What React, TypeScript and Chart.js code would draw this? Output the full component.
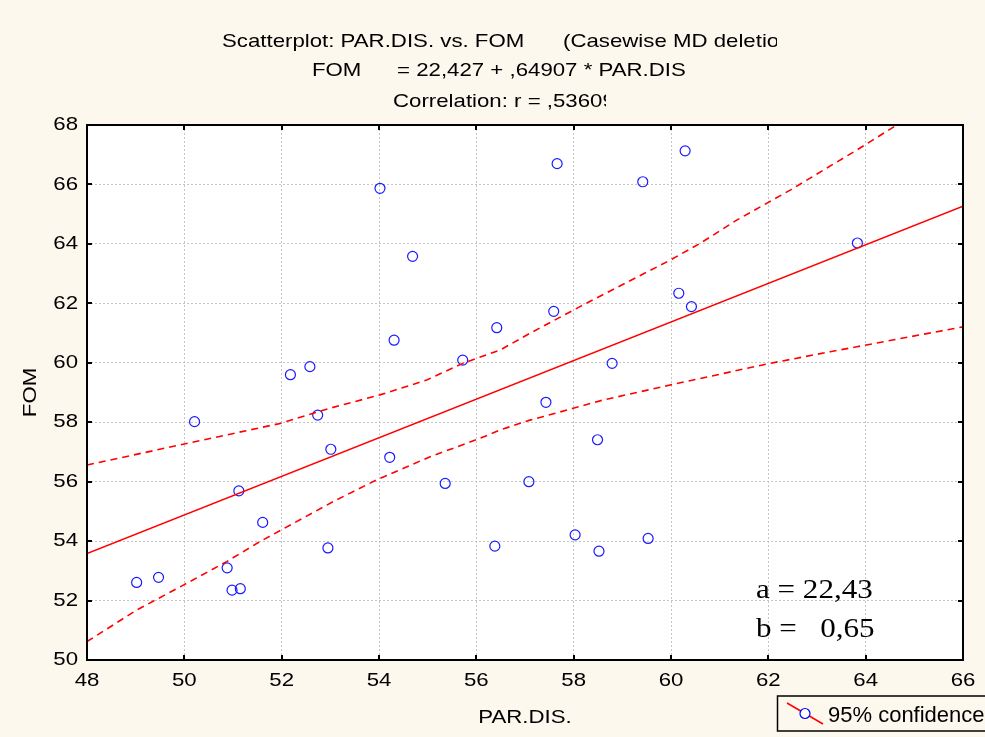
import React, { useEffect, useRef } from "react";
import { Chart, registerables } from "chart.js";

Chart.register(...registerables);

// Observed cases (PAR.DIS., FOM)
const parDis = [
  49.02, 49.47, 50.21, 50.88, 50.98, 51.15, 51.12, 51.61, 52.74, 53.01,
  52.95, 54.22, 55.36, 56.38, 57.08, 57.43, 58.49, 58.03, 58.52, 59.53,
  52.18, 52.58, 54.02, 54.69, 54.31, 55.72, 56.42, 57.66, 59.42, 60.29,
  63.83, 57.59, 60.16, 60.42, 58.79,
];
const fom = [
  52.61, 52.78, 58.02, 53.10, 52.35, 52.40, 55.69, 54.63, 58.24, 57.09,
  53.77, 56.82, 55.94, 53.83, 56.00, 58.67, 57.41, 54.21, 53.66, 54.09,
  59.60, 59.87, 65.87, 63.58, 60.76, 60.09, 61.18, 66.70, 66.09, 67.13,
  64.03, 61.73, 62.34, 61.89, 59.98,
];

// Regression line FOM = 22,427 + ,64907 * PAR.DIS
const fitX = [48, 66];
const fitY = [53.58, 65.27];

// 95% confidence bands
const upperX = [48, 50.12, 51.97, 52.99, 54.02, 54.98, 55.72, 56.49, 57.1, 58.13, 59.99, 60.6, 61.35, 62.45, 63.82, 64.64, 66];
const upperY = [56.56, 57.31, 57.96, 58.47, 58.92, 59.42, 59.98, 60.43, 60.99, 61.89, 63.46, 64.02, 64.8, 65.81, 67.16, 68.0, 69.33];
const lowerX = [48, 49.02, 49.98, 50.87, 51.55, 53.06, 53.95, 55.05, 56.08, 56.49, 57.1, 57.38, 57.99, 58.61, 59.98, 62.03, 63.27, 63.82, 66];
const lowerY = [50.62, 51.68, 52.52, 53.31, 53.98, 55.33, 56.06, 56.84, 57.46, 57.74, 58.07, 58.19, 58.47, 58.75, 59.25, 59.98, 60.37, 60.54, 61.21];

const xTicks = [48, 50, 52, 54, 56, 58, 60, 62, 64, 66];
const yTicks = [50, 52, 54, 56, 58, 60, 62, 64, 66, 68];

const titleLine1a = "Scatterplot: PAR.DIS. vs. FOM";
const titleLine1b = "(Casewise MD deletion)";
const titleLine2a = "FOM";
const titleLine2b = "= 22,427 + ,64907 * PAR.DIS.";
const titleLine3 = "Correlation: r = ,53609";
const xTitle = "PAR.DIS.";
const yTitle = "FOM";
const annA = "a = 22,43";
const annB = "b =   0,65";
const legendLabel = "95% confidence";

const pts = (xs: number[], ys: number[]) => xs.map((x, i) => ({ x, y: ys[i] }));

const SANS = "'Liberation Sans', Arial, sans-serif";
const SERIF = "'Liberation Serif', 'Times New Roman', serif";
const STRETCH = 1.17;

function drawText(
  ctx: CanvasRenderingContext2D,
  text: string,
  x: number,
  y: number,
  opts: { size: number; family?: string; stretch?: number; align?: CanvasTextAlign; baseline?: CanvasTextBaseline; clipRight?: number; rotate?: number }
) {
  ctx.save();
  if (opts.clipRight !== undefined) {
    ctx.beginPath();
    ctx.rect(0, y - 40, opts.clipRight, 60);
    ctx.clip();
  }
  ctx.translate(x, y);
  if (opts.rotate) ctx.rotate(opts.rotate);
  ctx.scale(opts.stretch ?? STRETCH, 1);
  ctx.font = `${opts.size}px ${opts.family ?? SANS}`;
  ctx.textAlign = opts.align ?? "left";
  ctx.textBaseline = opts.baseline ?? "alphabetic";
  ctx.fillStyle = "#000";
  ctx.fillText(text, 0, 0);
  ctx.restore();
}

const decorPlugin = {
  id: "decor",
  beforeDraw(chart: any) {
    const { ctx, chartArea: a, width, height } = chart;
    ctx.save();
    ctx.fillStyle = "#fdf8ed";
    ctx.fillRect(0, 0, width, height);
    ctx.fillStyle = "#ffffff";
    ctx.fillRect(a.left, a.top, a.right - a.left, a.bottom - a.top);
    ctx.restore();
  },
  afterDraw(chart: any) {
    const { ctx, chartArea: a } = chart;
    const xs = chart.scales.x;
    const ys = chart.scales.y;
    ctx.save();
    // box
    ctx.strokeStyle = "#000";
    ctx.lineWidth = 2;
    ctx.strokeRect(a.left, a.top, a.right - a.left, a.bottom - a.top);
    // inward ticks
    const tl = 5;
    ctx.beginPath();
    xTicks.forEach((v) => {
      const px = Math.round(xs.getPixelForValue(v));
      ctx.moveTo(px, a.bottom);
      ctx.lineTo(px, a.bottom - tl);
      ctx.moveTo(px, a.top);
      ctx.lineTo(px, a.top + tl);
    });
    yTicks.forEach((v) => {
      const py = Math.round(ys.getPixelForValue(v));
      ctx.moveTo(a.left, py);
      ctx.lineTo(a.left + tl, py);
      ctx.moveTo(a.right, py);
      ctx.lineTo(a.right - tl, py);
    });
    ctx.stroke();
    ctx.restore();

    // tick labels
    xTicks.forEach((v) => {
      drawText(ctx, String(v), xs.getPixelForValue(v), a.bottom + 21, { size: 19, align: "center", baseline: "middle" });
    });
    yTicks.forEach((v) => {
      drawText(ctx, String(v), a.left - 9, ys.getPixelForValue(v), { size: 19, align: "right", baseline: "middle" });
    });

    // titles
    drawText(ctx, titleLine1a, 222, 47, { size: 19 });
    drawText(ctx, titleLine1b, 563, 47, { size: 19, clipRight: 777 });
    drawText(ctx, titleLine2a, 312, 76, { size: 19 });
    drawText(ctx, titleLine2b, 397, 76, { size: 19, clipRight: 685 });
    drawText(ctx, titleLine3, 393, 107, { size: 19, clipRight: 606 });

    // axis titles
    drawText(ctx, xTitle, (a.left + a.right) / 2, 718, { size: 19, align: "center", baseline: "middle" });
    drawText(ctx, yTitle, 31, (a.top + a.bottom) / 2, { size: 19, align: "center", baseline: "middle", rotate: -Math.PI / 2 });

    // annotations
    drawText(ctx, annA, 756, 598, { size: 28, family: SERIF, stretch: 1.11 });
    drawText(ctx, annB, 756, 637, { size: 28, family: SERIF, stretch: 1.11 });

    // legend
    ctx.save();
    ctx.strokeStyle = "#000";
    ctx.lineWidth = 1.5;
    ctx.strokeRect(777.5, 696, 220, 35);
    ctx.strokeStyle = "#ff0000";
    ctx.lineWidth = 1.5;
    ctx.beginPath();
    ctx.moveTo(787, 703);
    ctx.lineTo(823, 724);
    ctx.stroke();
    ctx.fillStyle = "#ffffff";
    ctx.strokeStyle = "#0000ff";
    ctx.lineWidth = 1.2;
    ctx.beginPath();
    ctx.arc(805, 713.5, 5, 0, Math.PI * 2);
    ctx.fill();
    ctx.stroke();
    ctx.restore();
    drawText(ctx, legendLabel, 828, 721.5, { size: 22, stretch: 1.0 });
  },
};

export default function App() {
  const ref = useRef<HTMLCanvasElement | null>(null);
  useEffect(() => {
    if (!ref.current) return;
    const chart = new Chart(ref.current, {
      type: "scatter",
      data: {
        datasets: [
          {
            label: "upper",
            data: pts(upperX, upperY),
            showLine: true,
            borderColor: "#ff0000",
            borderWidth: 1.6,
            borderDash: [7, 5],
            pointRadius: 0,
            fill: false,
          },
          {
            label: "lower",
            data: pts(lowerX, lowerY),
            showLine: true,
            borderColor: "#ff0000",
            borderWidth: 1.6,
            borderDash: [7, 5],
            pointRadius: 0,
            fill: false,
          },
          {
            label: "fit",
            data: pts(fitX, fitY),
            showLine: true,
            borderColor: "#ff0000",
            borderWidth: 1.6,
            pointRadius: 0,
            fill: false,
          },
          {
            label: "cases",
            data: pts(parDis, fom),
            showLine: false,
            pointStyle: "circle",
            pointRadius: 5,
            pointBorderWidth: 1.2,
            pointBorderColor: "#1a1aff",
            pointBackgroundColor: "rgba(0,0,0,0)",
          },
        ],
      },
      options: {
        animation: false,
        responsive: true,
        maintainAspectRatio: false,
        layout: { padding: { left: 0, top: 125, right: 22, bottom: 0 } },
        plugins: { legend: { display: false }, tooltip: { enabled: false }, title: { display: false } },
        scales: {
          x: {
            type: "linear",
            min: 48,
            max: 66,
            afterBuildTicks: (s: any) => { s.ticks = xTicks.map((v) => ({ value: v })); },
            afterFit: (s: any) => { s.height = 77; },
            ticks: { display: false },
            grid: { color: "#c4c4c4", lineWidth: 1, drawTicks: false },
            border: { display: false, dash: [2, 2] },
          },
          y: {
            type: "linear",
            min: 50,
            max: 68,
            afterBuildTicks: (s: any) => { s.ticks = yTicks.map((v) => ({ value: v })); },
            afterFit: (s: any) => { s.width = 87; },
            ticks: { display: false },
            grid: { color: "#c4c4c4", lineWidth: 1, drawTicks: false },
            border: { display: false, dash: [2, 2] },
          },
        },
      },
      plugins: [decorPlugin],
    } as any);
    return () => chart.destroy();
  }, []);
  return (
    <div style={{ position: "fixed", left: 0, top: 0, width: 985, height: 737 }}>
      <canvas ref={ref} />
    </div>
  );
}
